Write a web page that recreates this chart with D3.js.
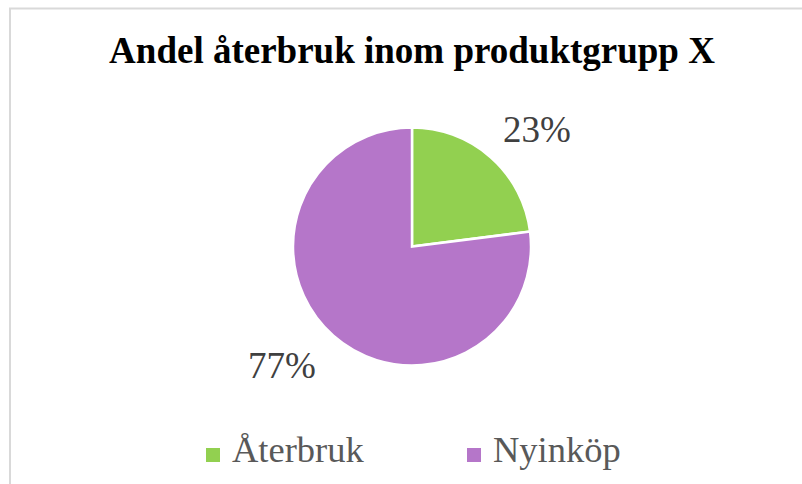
<!DOCTYPE html>
<html>
<head>
<meta charset="utf-8">
<script src="https://cdn.jsdelivr.net/npm/d3@7"></script>
<style>
  body { margin: 0; background: #fff; }
</style>
</head>
<body>
<script>
const categories = ["Återbruk", "Nyinköp"]
const values = [23, 77]
const labels = ["23%", "77%"]
const colors = ["#92d050", "#b576c9"]

const svg = d3.select("body")
              .append("svg")
              .attr("width", 802)
              .attr("height", 484)
              .style("display", "block")

// chart border (runs off right and bottom)
svg.append("rect")
   .attr("x", 10)
   .attr("y", 8.5)
   .attr("width", 820)
   .attr("height", 500)
   .attr("fill", "#fff")
   .attr("stroke", "#d9d9d9")
   .attr("stroke-width", 2)

svg.append("text")
   .attr("x", 412)
   .attr("y", 63)
   .attr("text-anchor", "middle")
   .attr("font-family", "Liberation Serif, Times New Roman, serif")
   .attr("font-weight", "bold")
   .attr("font-size", "37px")
   .attr("fill", "#000")
   .text("Andel återbruk inom produktgrupp X")

const radius = 119
const pie = d3.pie().sort(null).value(d => d)
const arc = d3.arc().innerRadius(0).outerRadius(radius)

const groupe = svg.append("g")
                  .attr("transform", "translate(412,246.5)")

groupe.selectAll("path")
      .data(pie(values))
      .enter()
      .append("path")
      .attr("d", arc)
      .attr("fill", (d, i) => colors[i])
      .attr("stroke", "#fff")
      .attr("stroke-width", 2.5)
      .attr("stroke-linejoin", "miter")

// data labels outside the slices
const labelPos = [[537, 142], [282, 378]]
groupe.selectAll("text.lbl")
      .data(pie(values))
      .enter()
      .append("text")
      .attr("class", "lbl")
      .attr("x", (d, i) => labelPos[i][0] - 412)
      .attr("y", (d, i) => labelPos[i][1] - 246.5)
      .attr("text-anchor", "middle")
      .attr("font-family", "Liberation Serif, Times New Roman, serif")
      .attr("font-size", "37px")
      .attr("fill", "#404040")
      .text((d, i) => labels[i])

// legend
const legendX = [206, 467]
const legend = svg.selectAll("g.leg")
                  .data(categories)
                  .enter()
                  .append("g")
                  .attr("class", "leg")
                  .attr("transform", (d, i) => `translate(${legendX[i]},448)`)

legend.append("rect")
      .attr("width", 14)
      .attr("height", 14)
      .attr("fill", (d, i) => colors[i])

legend.append("text")
      .attr("x", 26)
      .attr("y", 14)
      .attr("font-family", "Liberation Serif, Times New Roman, serif")
      .attr("font-size", "36.5px")
      .attr("fill", "#595959")
      .text(d => d)
</script>
</body>
</html>
